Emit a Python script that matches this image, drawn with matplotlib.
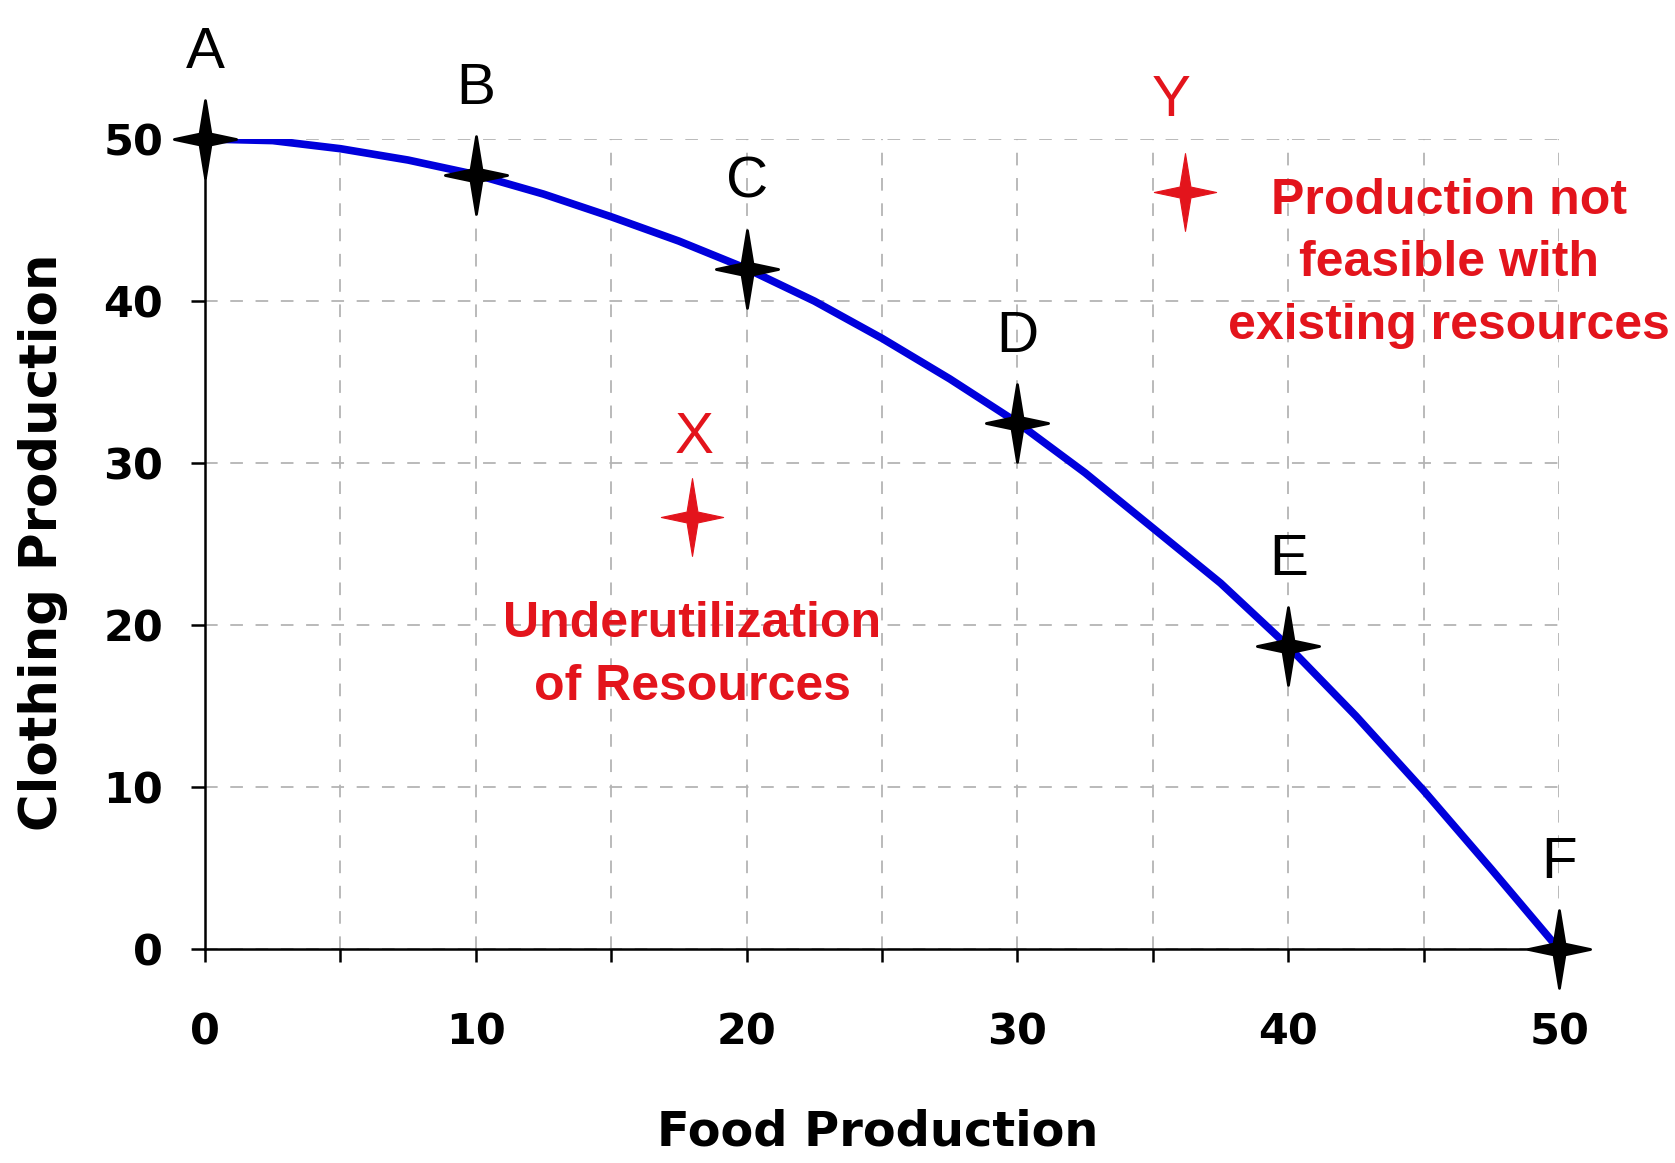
import numpy as np
import matplotlib
matplotlib.use("Agg")
import matplotlib.pyplot as plt
from matplotlib.path import Path

# production possibility frontier
curve_food = [0, 2.5, 5, 7.5, 10, 12.5, 15, 17.5, 20, 22.5, 25, 27.5, 30,
              32.5, 35, 37.5, 40, 42.5, 45, 47.5, 50]
curve_cloth = [50, 49.9, 49.4, 48.7, 47.8, 46.6, 45.2, 43.7, 42.0, 40.0, 37.7,
               35.2, 32.5, 29.4, 26.0, 22.6, 18.7, 14.4, 9.8, 4.95, 0]

point_names = ["A", "B", "C", "D", "E", "F"]
point_food = [0, 10, 20, 30, 40, 50]
point_cloth = [50, 47.8, 42.0, 32.5, 18.7, 0]

x_food, x_cloth = 18, 26.7
y_food, y_cloth = 36.2, 46.7
x_note = "Underutilization\nof Resources"
y_note = "Production not\nfeasible with\nexisting resources"

RED = "#e3141c"

# four pointed star marker with thin spikes
r = 0.14
star = Path([(0, 1), (r, r), (0.8, 0), (r, -r), (0, -1), (-r, -r),
             (-0.8, 0), (-r, r), (0, 1)],
            [Path.MOVETO] + [Path.LINETO] * 7 + [Path.CLOSEPOLY])

fig = plt.figure(figsize=(16.75, 11.63), dpi=100)
ax = fig.add_axes([0.1224, 0.1836, 0.8084, 0.6969])

ax.plot(curve_food, curve_cloth, color="#0000dc", lw=5.5,
        solid_joinstyle="round", solid_capstyle="round", zorder=3)
ax.plot(point_food, point_cloth, ls="none", marker=star, ms=56,
        color="black", mew=2, clip_on=False, zorder=4)

for name, fx, cy in zip(point_names, point_food, point_cloth):
    ax.annotate(name, (fx, cy), xytext=(0, 62), textcoords="offset points",
                ha="center", va="center", fontsize=42,
                family="Liberation Sans", color="black", zorder=5)

ax.plot([x_food, y_food], [x_cloth, y_cloth], ls="none", marker=star,
        ms=56, color=RED, mew=0.8, zorder=4)
ax.annotate("X", (x_food, x_cloth), xytext=(1, 57), textcoords="offset points",
            ha="center", va="center", fontsize=42, family="Liberation Sans",
            color=RED)
ax.annotate("Y", (y_food, y_cloth), xytext=(-10, 66), textcoords="offset points",
            ha="center", va="center", fontsize=42, family="Liberation Sans",
            color=RED)
ax.annotate(x_note, (x_food, x_cloth), xytext=(0, -100), textcoords="offset points",
            ha="center", va="center", fontsize=36, fontweight="bold",
            family="Liberation Sans", color=RED, linespacing=1.45)
ax.annotate(y_note, (y_food, y_cloth), xytext=(190, -51), textcoords="offset points",
            ha="center", va="center", fontsize=36, fontweight="bold",
            family="Liberation Sans", color=RED, linespacing=1.45)

ax.set_xlim(0, 50)
ax.set_ylim(0, 50)
ax.set_xticks(np.arange(0, 51, 5))
ax.set_xticklabels([str(v) if v % 10 == 0 else "" for v in range(0, 51, 5)])
ax.set_yticks(np.arange(0, 51, 10))

for s in ["top", "right"]:
    ax.spines[s].set_visible(False)
for s in ["left", "bottom"]:
    ax.spines[s].set_linewidth(1.8)

ax.tick_params(axis="x", direction="out", length=9.5, width=1.8, pad=35,
               labelsize=31)
ax.tick_params(axis="y", direction="out", length=10, width=1.8, pad=20,
               labelsize=31)
for lab in ax.get_xticklabels() + ax.get_yticklabels():
    lab.set_fontweight("bold")
    lab.set_family("DejaVu Sans")

ax.grid(True, color="#b4b4b4", lw=1.3, ls=(0, (7, 7)))
ax.set_axisbelow(True)

fig.text(878 / 1675, 1 - 1132 / 1163, "Food Production", ha="center",
         va="center", fontsize=34.5, fontweight="bold", family="DejaVu Sans")
fig.text(43 / 1675, 1 - 542 / 1163, "Clothing Production", ha="center",
         va="center", rotation=90, fontsize=37, fontweight="bold",
         family="DejaVu Sans")

fig.savefig("out.png", dpi=100, facecolor="white")
